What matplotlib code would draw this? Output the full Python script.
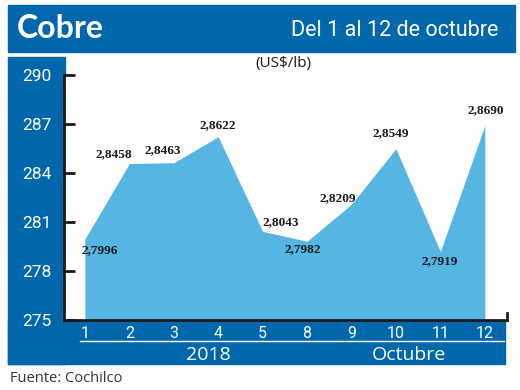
import matplotlib
matplotlib.use("Agg")
import matplotlib.pyplot as plt
from matplotlib.patches import Rectangle
from matplotlib.lines import Line2D

# Data
days = ["1", "2", "3", "4", "5", "8", "9", "10", "11", "12"]
prices = [2.7996, 2.8458, 2.8463, 2.8622, 2.8043, 2.7982, 2.8209, 2.8549, 2.7919, 2.8690]
yticks = [275, 278, 281, 284, 287, 290]
label_offsets = [(15, -11), (-16, 9), (-11, 13), (0, 12), (18, 9),
                 (-4, -8), (-14, 6), (-5, 16), (-1, -10), (1, 15)]

W, H = 520, 390
BLUE = "#0067AC"
FILL = "#55B5E3"
NARROW = "Roboto"

fig = plt.figure(figsize=(W / 100, H / 100), dpi=100)

def fx(x):
    return x / W

def fy(y):
    return 1 - y / H

# header band
fig.patches.append(Rectangle((fx(8), fy(52)), fx(515) - fx(8), fy(5) - fy(52),
                             transform=fig.transFigure, color=BLUE, zorder=0))
# left panel
fig.patches.append(Rectangle((fx(8), fy(364)), fx(65) - fx(8), fy(57) - fy(364),
                             transform=fig.transFigure, color=BLUE, zorder=0))
# bottom band
fig.patches.append(Rectangle((fx(8), fy(364)), fx(505) - fx(8), fy(320) - fy(364),
                             transform=fig.transFigure, color=BLUE, zorder=0))

ax = fig.add_axes([fx(64), fy(320), fx(507) - fx(64), fy(75) - fy(320)])
ax.set_zorder(3)
ax.set_facecolor("white")
vals = [p * 100 for p in prices]
xs = list(range(len(days)))
ax.fill_between(xs, 275, vals, color=FILL, linewidth=0, zorder=2)
ax.set_ylim(275, 290)
ax.set_xlim(-0.47, 9.5)
ax.set_yticks(yticks)
ax.set_yticklabels([str(t) for t in yticks], color="white", fontsize=12.5, family=NARROW)
ax.set_xticks(xs)
ax.set_xticklabels(days, color="white", fontsize=11.5, family=NARROW)
ax.tick_params(axis="y", direction="in", length=8, width=2, color="#1a1a1a", pad=9)
ax.tick_params(axis="x", length=0, pad=4)
for s in ["top", "right"]:
    ax.spines[s].set_visible(False)
ax.spines["left"].set_linewidth(2)
ax.spines["bottom"].set_linewidth(2)
ax.spines["left"].set_color("#1a1a1a")
ax.spines["bottom"].set_color("#1a1a1a")
ax.plot([1, 1], [0, 0.03], transform=ax.transAxes, color="#1a1a1a", lw=2, clip_on=False)

for x, v, p, (dx, dy) in zip(xs, vals, prices, label_offsets):
    ax.annotate(f"{p:.4f}".replace(".", ","), (x, v), xytext=(dx, dy),
                textcoords="offset pixels", ha="center", va="center",
                fontsize=9.5, fontweight="bold", family="Liberation Serif",
                color="#1a1a1a", zorder=5)

fig.text(fx(17), fy(28), "Cobre", color="white", fontsize=23, fontweight="bold",
         family="Lato", va="center", ha="left", zorder=4)
fig.text(fx(498), fy(30), "Del 1 al 12 de octubre", color="white", fontsize=15.5,
         family=NARROW, va="center", ha="right", zorder=4)
fig.text(fx(283), fy(63), "(US$/lb)", color="#1a1a1a", fontsize=11,
         family="Open Sans", va="center", ha="center", zorder=4)

fig.lines.append(Line2D([fx(80), fx(504)], [fy(341), fy(341)], transform=fig.transFigure,
                        color="white", lw=1, zorder=4))
fig.text(fx(208), fy(355), "2018", color="white", fontsize=14, family="Open Sans",
         va="center", ha="center", zorder=4)
fig.text(fx(409), fy(355), "Octubre", color="white", fontsize=14, family="Open Sans",
         va="center", ha="center", zorder=4)
fig.text(fx(10), fy(378), "Fuente: Cochilco", color="#333333", fontsize=10.5,
         family="Open Sans", va="center", ha="left", zorder=4)

fig.savefig("out.png", dpi=100)
